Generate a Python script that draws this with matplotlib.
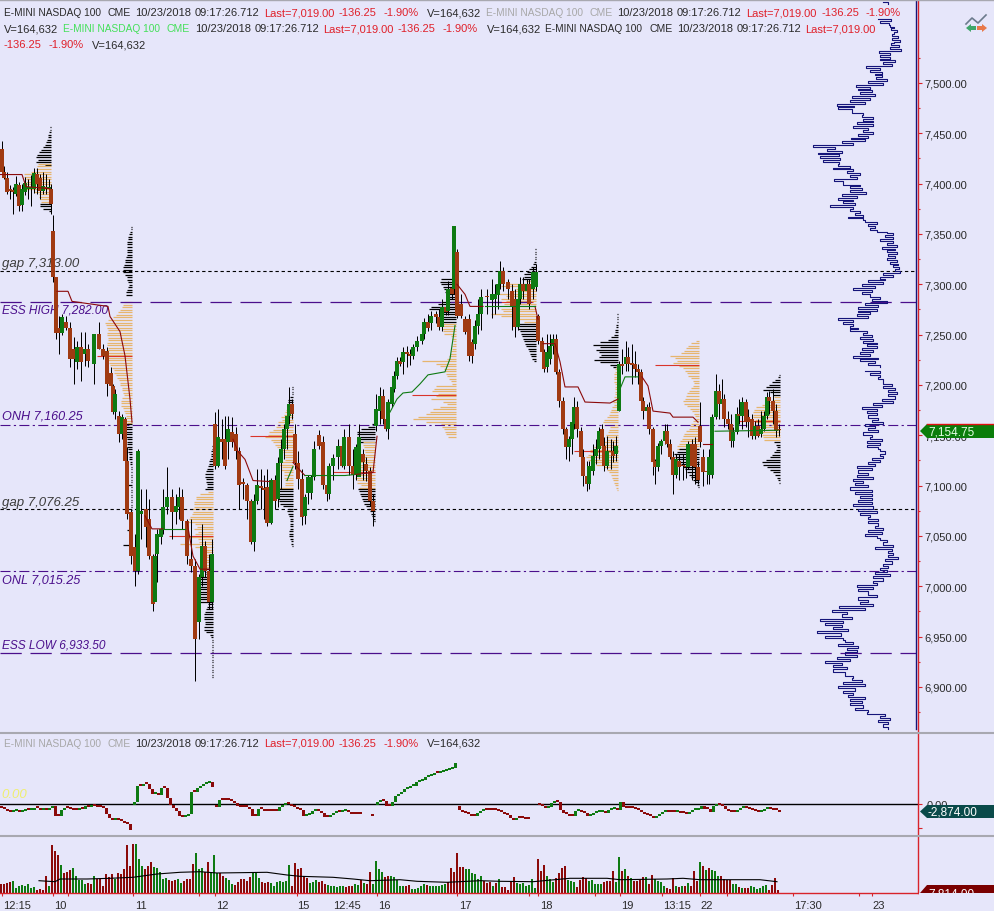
import numpy as np
import matplotlib
matplotlib.use("Agg")
import matplotlib.pyplot as plt
from matplotlib.lines import Line2D
from matplotlib.patches import Polygon, Rectangle

plt.rcParams['font.family'] = ['Liberation Sans', 'DejaVu Sans']

# candles, x is chart position
candle_x = [2,4,7,10,13,16,19,22,25,28,
    31,34,37,40,43,46,49,51,53,56,
    59,62,66,70,74,77,81,85,88,94,
    99,103,107,111,113,115,119,122,125,127,
    131,135,138,141,146,149,153,155,157,161,
    163,167,172,176,179,182,187,191,195,199,
    202,205,209,212,215,218,222,225,228,232,
    236,239,243,247,251,254,257,261,264,267,
    271,275,278,281,284,287,289,292,295,298,
    302,305,308,311,314,319,323,327,329,333,
    338,342,344,349,353,356,359,363,366,370,
    373,376,380,383,386,388,392,394,397,400,
    403,407,410,413,417,422,424,428,431,436,
    439,442,446,448,452,454,457,461,465,469,
    472,475,478,481,487,492,495,498,500,503,
    508,512,515,518,520,523,527,529,533,536,
    538,542,544,547,550,553,556,559,563,566,
    569,572,574,577,581,583,587,589,593,596,
    599,602,604,607,611,613,616,619,622,626,
    628,632,635,638,641,643,647,649,653,655,
    658,661,665,667,670,673,676,679,683,686,
    688,692,695,698,700,703,707,709,712,716,
    719,722,724,728,731,733,737,739,742,746,
    748,752,755,758,761,764,767,769,773,776,779]
candle_open = [7434,7412,7406,7394,7393,7390,7399,7379,7392,7395,
    7395,7395,7410,7406,7393,7396,7395,7395,7353,7307,
    7257,7252,7263,7257,7236,7223,7238,7231,7236,7221,
    7251,7236,7234,7212,7199,7173,7169,7151,7166,7124,
    7074,7039,7015,7072,7077,7067,7030,6984,7032,7049,
    7057,7079,7089,7074,7079,7089,7065,7027,7020,6964,
    7009,7040,7015,6984,7161,7119,7146,7146,7143,7153,
    7151,7134,7103,7101,7085,7044,7085,7099,7098,7099,
    7063,7106,7087,7122,7136,7156,7169,7181,7151,7122,
    7107,7070,7093,7093,7109,7150,7143,7101,7092,7119,
    7128,7139,7119,7148,7119,7111,7109,7131,7121,7114,
    7085,7159,7174,7189,7166,7156,7181,7196,7209,7224,
    7223,7233,7231,7229,7238,7244,7251,7263,7262,7270,
    7267,7258,7277,7273,7296,7295,7332,7280,7265,7265,
    7243,7241,7259,7270,7288,7284,7285,7289,7300,7313,
    7302,7293,7285,7258,7285,7300,7293,7300,7295,7297,
    7268,7244,7233,7218,7226,7239,7246,7213,7184,7156,
    7138,7146,7161,7178,7154,7128,7110,7102,7114,7129,
    7136,7156,7139,7119,7134,7134,7131,7174,7221,7221,
    7228,7221,7221,7216,7213,7184,7174,7178,7156,7124,
    7118,7139,7144,7154,7141,7128,7111,7124,7120,7119,
    7118,7141,7141,7118,7159,7128,7114,7111,7111,7168,
    7194,7181,7186,7166,7161,7144,7153,7171,7169,7183,
    7168,7166,7149,7159,7151,7156,7169,7188,7184,7174,7156]
candle_close = [7412,7406,7392,7393,7392,7400,7378,7395,7401,7397,
    7396,7411,7400,7393,7398,7395,7397,7380,7307,7252,
    7252,7267,7257,7226,7226,7238,7223,7236,7224,7251,
    7236,7229,7201,7199,7173,7191,7151,7168,7124,7072,
    7030,7015,7134,7075,7059,7030,6982,7030,7052,7057,
    7079,7089,7074,7080,7089,7065,7030,7020,6948,7009,
    7040,7015,6984,7032,7119,7148,7143,7119,7156,7143,
    7134,7101,7102,7085,7044,7085,7101,7098,7096,7063,
    7106,7085,7122,7136,7156,7169,7181,7171,7122,7107,
    7069,7089,7109,7109,7136,7139,7101,7092,7119,7127,
    7139,7119,7148,7119,7111,7138,7148,7123,7114,7085,
    7075,7176,7189,7166,7156,7183,7198,7209,7224,7221,
    7233,7231,7229,7238,7244,7251,7263,7257,7268,7267,
    7258,7277,7272,7295,7290,7358,7268,7268,7253,7229,
    7229,7259,7270,7287,7287,7290,7290,7300,7313,7300,
    7295,7277,7258,7285,7300,7293,7300,7280,7312,7312,
    7244,7233,7216,7233,7239,7246,7213,7184,7156,7138,
    7146,7163,7178,7156,7128,7110,7102,7119,7129,7136,
    7154,7139,7119,7134,7133,7129,7139,7221,7219,7228,
    7221,7220,7216,7213,7184,7174,7178,7156,7123,7118,
    7139,7144,7154,7141,7128,7111,7126,7118,7119,7118,
    7141,7119,7118,7106,7143,7113,7113,7128,7168,7194,
    7181,7186,7166,7161,7144,7153,7171,7169,7183,7163,
    7163,7149,7159,7149,7156,7169,7188,7184,7174,7154,7154.75]
candle_high = [7442,7417,7412,7399,7397,7408,7402,7400,7407,7405,
    7409,7415,7415,7410,7412,7410,7405,7400,7369,7307,
    7268,7270,7268,7263,7248,7244,7253,7253,7241,7251,
    7263,7241,7238,7218,7201,7196,7174,7171,7168,7138,
    7077,7052,7136,7097,7097,7087,7032,7034,7057,7059,
    7097,7118,7097,7092,7099,7097,7067,7067,7027,7012,
    7062,7045,7032,7047,7173,7176,7166,7169,7169,7168,
    7158,7138,7108,7103,7087,7092,7116,7116,7111,7116,
    7108,7111,7128,7146,7161,7181,7198,7186,7161,7134,
    7116,7092,7111,7111,7144,7155,7149,7106,7122,7131,
    7146,7146,7156,7161,7136,7141,7161,7136,7128,7118,
    7092,7191,7198,7196,7171,7186,7203,7214,7228,7228,
    7238,7239,7236,7241,7249,7253,7266,7270,7273,7273,
    7275,7285,7290,7303,7307,7358,7335,7290,7268,7270,
    7246,7264,7285,7295,7295,7305,7300,7307,7323,7317,
    7305,7300,7295,7287,7307,7307,7305,7305,7317,7320,
    7270,7248,7236,7251,7251,7251,7251,7216,7188,7158,
    7149,7166,7188,7184,7158,7136,7124,7124,7141,7146,
    7158,7161,7148,7149,7146,7144,7149,7224,7236,7244,
    7238,7241,7234,7221,7216,7188,7181,7183,7158,7126,
    7142,7146,7161,7161,7146,7134,7131,7131,7131,7128,
    7144,7146,7148,7124,7183,7136,7121,7136,7171,7211,
    7201,7206,7191,7174,7171,7158,7178,7186,7188,7186,
    7176,7171,7164,7166,7174,7174,7193,7194,7196,7181,7161]
candle_low = [7410,7405,7390,7385,7370,7388,7373,7373,7389,7385,
    7378,7391,7390,7385,7390,7390,7382,7370,7302,7246,
    7231,7250,7255,7218,7201,7216,7204,7219,7218,7201,
    7236,7226,7189,7194,7171,7166,7143,7146,7116,7067,
    7022,7000,7012,7047,7039,7027,6975,7000,7004,7042,
    7052,7072,7047,7062,7067,7057,7022,7014,6906,6948,
    7000,7009,6977,6977,7116,7118,7126,7116,7126,7138,
    7126,7077,7087,7067,7042,7035,7082,7077,7067,7060,
    7062,7077,7079,7097,7126,7136,7161,7166,7116,7097,
    7061,7062,7082,7087,7106,7136,7097,7085,7087,7106,
    7116,7118,7116,7111,7097,7106,7111,7106,7105,7080,
    7060,7154,7161,7161,7154,7146,7178,7193,7206,7219,
    7211,7218,7220,7226,7234,7241,7246,7254,7255,7262,
    7255,7254,7269,7269,7285,7290,7266,7266,7251,7224,
    7222,7236,7251,7255,7270,7266,7270,7275,7295,7293,
    7285,7255,7248,7255,7280,7285,7285,7275,7285,7293,
    7241,7228,7213,7213,7221,7231,7211,7178,7151,7126,
    7124,7131,7156,7148,7124,7100,7095,7097,7111,7121,
    7126,7131,7114,7116,7116,7123,7124,7174,7211,7214,
    7214,7201,7208,7201,7181,7166,7166,7151,7111,7102,
    7114,7131,7141,7138,7126,7092,7108,7106,7106,7108,
    7116,7106,7102,7102,7138,7100,7102,7102,7108,7166,
    7166,7174,7158,7156,7138,7138,7151,7161,7156,7158,
    7148,7146,7146,7148,7148,7154,7166,7171,7161,7148,7149]

# session vwap pieces: (x list, price list)
vwap_red = [([0,22,26,50],[7409,7409,7397,7395]),
    ([57,68,72,108,110,120,125,130,132],[7293,7293,7283,7278,7268,7253,7229,7186,7163]),
    ([145,152,163],[7070,7057,7057]),
    ([187,193,200,210],[7064,7030,7017,7017]),
    ([233,238,245,250,253,270],[7146,7134,7126,7113,7105,7104]),
    ([293,302,305],[7123,7113,7110]),
    ([355,373,377],[7111,7113,7149]),
    ([457,465,470,483],[7300,7290,7278,7278]),
    ([535,538],[7278,7265]),
    ([543,555,560,565,578,585,610,618],[7241,7241,7223,7198,7198,7183,7182,7186]),
    ([642,648,653,670,673,693,698],[7208,7199,7174,7172,7168,7168,7163]),
    ([703,712],[7141,7141])]
vwap_green = [([163,185],[7057,7057]),
    ([287,293],[7105,7119]),
    ([305,345,355],[7110,7110,7111]),
    ([390,397,403,412,420,428,445,450,455],[7173,7186,7192,7193,7201,7210,7213,7226,7259]),
    ([485,518,535],[7278,7278,7278]),
    ([620,625,638],[7196,7208,7208]),
    ([715,778],[7154,7155])]

poc_left = [97,169,250,333,412,493,574,655,738]
poc_right = [132,213,293,375,456,533,618,699,780]
poc_price = [7229,7050,7149,7113,7190,7282,7134,7220,7164]

# volume profiles, rows 2.5 points apart going down from the top price
p1_right = 51
p1_black_top, p1_black = 7456, [1,1,2,3,3,4,5,6,8,10,12,14,15,13,15,6]
p1_orange_top, p1_orange = 7419.5, [13,14,15,20,27,27,25,25,27,27,27,17,12,12,11,10]
p1_low_top, p1_low = 7380, [11,11,8,2]

p2_right = 132
p2_black_top, p2_black = 7357, [1,1,2,3,4,4,5,5,5,5,5,5,6,7,7,8,9,9,9,7,5,5,4,3,4,5,6,6]
p2_orange_top, p2_orange = 7282, [8,9,10,12,14,16,19,24,27,26,25,24,25,25,24,24,25,25,24,25,26,25,25,24,23,22,20,18,18,16,15,13,12,12,10,10,9,8,10,11,11,11,9,8,7,6,6,6,5]
p2_low_top, p2_low = 7161, [7,6,6,6,6,6,5,5,5,5,4,4,3,3,3,2,2,1,1,1,1,1,1,1,6,1,1,1,1,1,1,1,1,1,1,1,1,1,1,1,1,1,5,1,1,1,1,1,9,1,1]

p3_right = 213
p3_black_top, p3_black = 7139, [1,1,2,2,2,3,4,4,5,6,7,8,8,7,7,6,6,8]
p3_orange_top, p3_orange = 7094, [5,13,17,17,19,19,19,22,20,21,23,24,25,18,16,19,15,18,25,15,14,33,18,12,10,10,10,10,8,8,7]
p3_low_top, p3_low = 7017, [7,7,7,14,15,16,16,17,17,17,17,17,17,15,5,6,7,8,9,9,9,8,8,9,9,7,3,2,1,1,1,1,1,1,1,1,1,1,1,1,1,1,1,1]

p4_right = 293
p4_black_top, p4_black = 7198, [1,1,1,1,3,5,5,2]
p4_orange_top, p4_orange = 7178, [5,7,8,9,12,11,15,16,17,20,24,25,28,22,20,18,16,14,10,9,8,8,13,14,11,12,9,9,9,8,8,8,15]
p4_low_top, p4_low = 7097, [16,16,15,15,15,14,13,10,5,6,5,4,3,3,3,3,3,4,4,4,3,2,2,1]

p5_right = 375
p5_black_top, p5_black = 7161, [3,7,14,18,18,18,18,16]
p5_orange_top, p5_orange = 7143, [12,12,11,11,10,10,12,14,16,18,20,22,20,18,20,18,18,14,16]
p5_low_top, p5_low = 7097, [17,16,15,14,13,12,11,9,7,5,4,3,2,1]

p6_right = 456
p6_black_top, p6_black = 7305, [15,16,15,13,12,11,10,9,9,14,18,25,27,15,14,13,13,13]
p6_orange_top, p6_orange = 7261, [19,16,14,13,12,5,4,3,3,4,4,5,6,7,9,34,20,16,12,11,10,9,7,5,4,20,22,24,18,20,25,13,9,16,23,26,30,38,43,30,15,14,12,11,10,8]

p7_right = 536
p7_black_top, p7_black = 7335, [1,1,1,1,1,2,3,5,7,9,12,12,14]
p7_orange_top, p7_orange = 7303, [10,29,35,20,25,37,30,35,30,32,20,35,33,45,35,20,12]
p7_low_top, p7_low = 7261, [23,20,18,16,15,14,13,12,11,10,8,7,6,5,4,2]

p8_right = 618
p8_black_top, p8_black = 7270, [1,1,1,1,2,2,3,3,4,7,10,18,25,18,22,19,17,19,24,18,8,5]
p8_orange_top, p8_orange = 7218, [2,3,3,4,4,4,4,3,3,3,3,3,4,5,5,4,6,7,8,9,11,14,15,14,8,9,10,12,12,11,14,18,24,28,28,30,32,30,26,22,14,11,9,7,6,5,4,3,2,1]

p9_right = 699
p9_orange_top, p9_orange = 7244, [3,8,11,13,15,18,29,24,22,26,20,16,14,12,11,8,6,5,6,8,10,12,13,14,16,15,12,9,7,5,4,3,6,8,9,10,13,15,16,17,19,20,22,22]
p9_low_top, p9_low = 7136, [20,22,25,24,23,20,18,16,14,12,10,8,6,4,2,1]

p10_right = 780
p10_black_top, p10_black = 7210, [1,2,5,8,11,14,17,10,7]
p10_orange_top, p10_orange = 7188, [6,8,12,18,24,26,27,27,27,25,25,26,24,22,18,18,17,16]
p10_low_top, p10_low = 7143, [6,4,3,4,6,8,10,14,18,17,13,10,7,5,3,2,1]

# far right profile (length back from the navy line)
right_prof_top = [33,28]
right_prof_upper = [38,25,36,27,26,22,25,19,22,24,18,24,16,22,25,17,26,15,37,26,36,26,36,21,33,24,50,36,46,34,41,34,40,29,48,33,60,46,58,44,56,41,64,46,66,51,79,62,78,64,64,53,54,43,53,43,59,43,63,48,53,43,58,48,65,51,74,63,103,81,89,74,98,77,96,76,93,77,78,66,83,63,69,56,66,59,82,73,73,56,66,54,66,50,74,59,78,63,73,61,86,63,66,56,61,53,68,53,51,39,48,41,46,39,29,23,31,23,36,23,29,19,34,21,29,19,28,21,29,19,26,18,23,17,21,16,33,23,36,31,48,33,54,41,63,44,54,46,46,36,44,29,51,38,58,39,58,46,59,48,78,63,73,63,66,58,66,49,53,44,56,43,53,39,49,39,54,43,56,46,63,38,56,41,48,36]
right_prof_lower = [51,36,46,36,38,33,33,24,33,21,28,19,28,21,34,23,43,34,54,39,49,39,48,38,44,33,51,41,48,38,53,44,46,34,49,36,49,38,36,31,36,33,44,36,48,41,59,44,58,48,59,43,63,53,61,48,66,44,61,44,56,44,58,44,63,43,58,39,56,46,48,38,48,38,41,33,48,34,51,39,36,29,33,23,41,24,28,23,28,18,31,24,33,28,36,29,41,26,43,33,43,39,59,43,58,48,48,39,58,48,56,43,77,51,84,69,74,64,96,73,91,74,83,68,99,75,91,73,71,63,78,58,69,59,71,59,79,66,91,74,83,69,83,71,71,63,64,54,73,51,78,61,73,63,68,51,66,54,66,53,61,48,49,31,36,26,38,28,33,28]

# price levels: value, label, label price position
gap_levels = [7313.0, 7076.25]
gap_labels = ["gap 7,313.00", "gap 7,076.25"]
gap_label_price = [7321, 7084]
ess_levels = [7282.0, 6933.5]
ess_labels = ["ESS HIGH 7,282.00", "ESS LOW 6,933.50"]
ess_label_price = [7275, 6942]
on_levels = [7160.25, 7015.25]
on_labels = ["ONH 7,160.25", "ONL 7,015.25"]
on_label_price = [7170, 7007]

price_ticks = [6900,6950,7000,7050,7100,7150,7200,7250,7300,7350,7400,7450,7500]
price_minor = [6875,6925,6975,7025,7075,7125,7175,7225,7275,7325,7375,7425,7475,7525]

# delta panel, closes of each run of bars
delta_starts = [0,133,215,376,458,538]
delta_first_open = [-7,0,-2,0,-4,2]
delta_a = [-9,-12,-19,-22,-17,-16,-20,-17,-16,-16,-14,-8,-10,-14,-12,-14,-10,-4,-32,-32,-14,-9,-10,-12,-14,-14,-11,-11,-2,-6,-2,-2,-6,-6,-10,-26,-39,-46,-39,-46,-48,-54,-56,-74]
delta_b = [8,56,56,63,63,48,33,34,31,51,51,21,1,-9,-19,-34,-36,-32,-26,38,38,51,56,64,66,68,54]
delta_c = [-6,14,14,14,14,11,6,-2,-6,-6,-6,-12,-32,-32,-12,-12,-17,-17,-17,-19,-19,-6,1,6,4,-2,-6,-12,-14,-32,-29,-26,-19,-17,-19,-24,-36,-36,-29,-24,-22,-22,-19,-17,-22,-26,-26,-28,-28,np.nan,np.nan,-32,-32]
delta_d = [8,11,11,-4,-4,8,26,33,38,48,51,56,58,68,71,76,84,86,91,96,96,98,101,106,108,111,126]
delta_e = [-14,-20,-24,-26,-32,-32,-24,-17,-14,-14,-14,-14,-14,-18,-22,-26,-29,-39,-44,-39,-39,-40,-41,-41]
delta_f = [0,-2,-9,-6,6,9,8,-14,-24,-28,-32,-32,-19,-18,-20,-24,-32,-30,-24,-22,-20,-19,-24,-16,-12,-10,-14,10,-6,-8,-10,-10,-12,-14,-22,-26,-29,-32,-38,-32,-26,-22,-19,-20,-22,-22,-18,-24,-24,-26,-20,-16,-14,-12,-4,-12,-12,-22,-4,1,1,-4,-12,-18,-20,-20,-14,-10,-8,-8,-12,-14,-19,-20,-17,-12,-11,-12,-14,-16,-20]

# volume panel
volume = [9,9,10,11,12,5,7,8,7,9,
    5,6,3,4,3,17,7,48,42,38,
    28,20,21,23,25,17,13,13,9,10,
    9,17,14,14,7,19,16,19,14,20,
    19,24,48,27,49,49,34,27,24,27,
    31,26,25,21,14,15,13,12,13,14,
    10,12,14,14,29,40,24,25,21,31,
    21,38,20,20,17,15,13,9,8,11,
    14,14,12,16,21,21,15,11,10,11,
    10,7,11,12,11,12,28,7,30,24,
    25,17,15,10,11,13,11,12,9,8,
    7,7,6,7,7,6,7,7,9,8,
    13,10,9,21,9,32,24,21,16,17,
    17,16,13,7,7,7,8,4,4,5,
    7,9,8,7,7,7,7,8,9,11,
    25,21,40,26,26,24,24,20,19,14,
    17,12,10,11,7,10,14,
    6,6,3,12,16,10,9,10,7,8,
    14,5,34,22,28,17,14,11,15,20,
    25,27,13,12,11,6,13,16,15,12,
    13,9,9,9,11,12,12,22,11,36,
    22,24,17,15,12,12,13,16,16,9,
    18,14,12,11,7,5,4,15,7,6,
    7,7,10,7,22,12,31,27,23,25,
    23,22,17,17,14,13,13,9,9,6,
    5,5,5,7,6,4,5,7,8,3,
    8,15,3]
volume_side = ("rrrrgggggg" "ggrrrrgrrr" "grrrgggggr" "rgrrrrrrgr" "rrrrrgggrr"
    "rgggggrrrg" "grrrrgggrr" "gggrrgggrr" "rrrrgggrrr" "gggggggrrr"
    "rrrgggrrrg" "gggggrrrgg" "rgrrggggrr" "gggggrrggg" "ggrggggggr"
    "rrrrrggggg" "grrrgrg"
    "rrrrrggggg" "ggrrrgggrr" "rrgggrrrrg" "ggggrrrrgg" "rgrgrrrrgr"
    "rggggrrrgr" "grgrrrgrgr" "gggrrrrggr" "grrggggggr" "rrr")
vol_ma_x = [39,55,60,87,110,133,157,180,200,217,267,287,300,333,353,370,400,417,447,480,500,533,570,607,620,667,683,700,733,760,777]
vol_ma = [12.3,11.3,14,14,14.7,15.7,19,20.7,21.3,20,20.7,18,16.7,15.7,14,12.3,13.3,11.7,10.7,12.3,11.7,11.3,14.7,14.7,13.3,14,14.7,13.3,13.3,13.3,11.3]

# bottom axis
time_pos = [17,60,141,222,303,347,384,465,546,627,677,707,808,879]
time_labels = ["12:15","10","11","12","15","12:45","16","17","18","19","13:15","22","17:30","23"]
time_marks = [2,53,68,133,199,215,297,377,457,529,538,595,620,662,700,727,793,859,872]

BG = "#E6E6FA"
RED_AX = "#D8232A"
BROWN = "#A03A12"
GREEN = "#0E7A12"
DKRED = "#8B0A0A"
ORANGE = "#E6B56E"
NAVY = "#15157A"
PURPLE = "#4B0F8C"
TXT = "#2A2A2A"
LABEL_RED = "#E0202A"

fig = plt.figure(figsize=(9.95, 9.12), dpi=100, facecolor=BG)

def fx(x):
    return x / 995

def fy(y):
    return 1 - y / 912

ax = fig.add_axes([0, fy(733), 918 / 995, 731 / 912], facecolor=BG)
ax_d = fig.add_axes([0, fy(836), 918 / 995, 101 / 912], facecolor=BG)
ax_v = fig.add_axes([0, fy(894), 918 / 995, 56 / 912], facecolor=BG)

for a in (ax, ax_d, ax_v):
    a.set_xlim(0, 918)
    for s in a.spines.values():
        s.set_visible(False)
    a.spines['right'].set_visible(True)
    a.spines['right'].set_color(RED_AX)
    a.spines['right'].set_linewidth(1.0)
    a.yaxis.tick_right()

# main panel
ax.set_ylim(6855.2, 7581.4)

def draw_profile(right, top, lens, color):
    lens = np.array(lens, float)
    rows = top - 2.5 * np.arange(len(lens))
    ax.hlines(rows, right - lens, right, color=color, lw=0.9, zorder=1)

draw_profile(p1_right, p1_black_top, p1_black, "black")
draw_profile(p1_right, p1_orange_top, p1_orange, ORANGE)
draw_profile(p1_right, p1_low_top, p1_low, "black")
draw_profile(p2_right, p2_black_top, p2_black, "black")
draw_profile(p2_right, p2_orange_top, p2_orange, ORANGE)
draw_profile(p2_right, p2_low_top, p2_low, "black")
draw_profile(p3_right, p3_black_top, p3_black, "black")
draw_profile(p3_right, p3_orange_top, p3_orange, ORANGE)
draw_profile(p3_right, p3_low_top, p3_low, "black")
draw_profile(p4_right, p4_black_top, p4_black, "black")
draw_profile(p4_right, p4_orange_top, p4_orange, ORANGE)
draw_profile(p4_right, p4_low_top, p4_low, "black")
draw_profile(p5_right, p5_black_top, p5_black, "black")
draw_profile(p5_right, p5_orange_top, p5_orange, ORANGE)
draw_profile(p5_right, p5_low_top, p5_low, "black")
draw_profile(p6_right, p6_black_top, p6_black, "black")
draw_profile(p6_right, p6_orange_top, p6_orange, ORANGE)
draw_profile(p7_right, p7_black_top, p7_black, "black")
draw_profile(p7_right, p7_orange_top, p7_orange, ORANGE)
draw_profile(p7_right, p7_low_top, p7_low, "black")
draw_profile(p8_right, p8_black_top, p8_black, "black")
draw_profile(p8_right, p8_orange_top, p8_orange, ORANGE)
draw_profile(p9_right, p9_orange_top, p9_orange, ORANGE)
draw_profile(p9_right, p9_low_top, p9_low, "black")
draw_profile(p10_right, p10_black_top, p10_black, "black")
draw_profile(p10_right, p10_orange_top, p10_orange, ORANGE)
draw_profile(p10_right, p10_low_top, p10_low, "black")

ax.hlines(poc_price, poc_left, poc_right, color="#D9342B", lw=0.8, zorder=1.5)

# reference levels
ax.hlines(gap_levels, 0, 916, color="black", lw=0.8, linestyles=[(0, (3, 2.5))], zorder=2)
ax.hlines(ess_levels, 0, 916, color=PURPLE, lw=0.9, linestyles=[(0, (17, 7))], zorder=2)
ax.hlines(on_levels, 0, 916, color=PURPLE, lw=0.8, linestyles=[(0, (9, 3, 2, 3))], zorder=2)
for lev, txt in zip(gap_label_price, gap_labels):
    ax.text(2, lev, txt, color="#3C3C3C", style='italic', fontsize=9.5, va='center', zorder=1.8)
for lev, txt in zip(ess_label_price, ess_labels):
    ax.text(2, lev, txt, color=PURPLE, style='italic', fontsize=8.6, va='center', zorder=1.8)
for lev, txt in zip(on_label_price, on_labels):
    ax.text(2, lev, txt, color=PURPLE, style='italic', fontsize=9.1, va='center', zorder=1.8)

# candles
o = np.array(candle_open, float)
c = np.array(candle_close, float)
body_low = np.minimum(o, c)
body_h = np.maximum(np.abs(c - o), 1.5)
colors = [GREEN if cc > oo else BROWN for oo, cc in zip(o, c)]
ax.vlines(candle_x, candle_low, candle_high, color="black", lw=0.72, zorder=3)
ax.bar(candle_x, body_h, bottom=body_low, width=3.5, color=colors, linewidth=0, zorder=3.5)

for xs, ys in vwap_red:
    ax.plot(xs, ys, color=DKRED, lw=0.8, zorder=4)
for xs, ys in vwap_green:
    ax.plot(xs, ys, color=GREEN, lw=0.8, zorder=4)

# right profile
ax.plot(916 - np.array(right_prof_top), [7580, 7578], color=NAVY, lw=0.8, drawstyle='steps-post', zorder=2.5)
upper = np.linspace(7563.5, 7217.8, len(right_prof_upper))
lower = np.linspace(7213.8, 6858.5, len(right_prof_lower))
ax.plot(916 - np.array(right_prof_upper), upper, color=NAVY, lw=0.8, drawstyle='steps-post', zorder=2.5)
ax.plot(916 - np.array(right_prof_lower), lower, color=NAVY, lw=0.8, drawstyle='steps-post', zorder=2.5)
ax.plot([915.5, 915.5], [6858, 7581.4], color=NAVY, lw=1.0, zorder=2.5)

ax.set_xticks([])
ax.set_yticks(price_ticks)
ax.set_yticklabels([f"{p:,.2f}" for p in price_ticks])
ax.set_yticks(price_minor, minor=True)
ax.tick_params(axis='y', which='major', length=3, width=0.8, color=RED_AX, labelsize=8, labelcolor=TXT, pad=1.5)
ax.tick_params(axis='y', which='minor', length=1.5, width=0.8, color=RED_AX)

# delta panel
ax_d.set_ylim(-92, 211)
ax_d.axhline(0, color="black", lw=1.0, zorder=2)
for start, first, closes in zip(delta_starts, delta_first_open,
                                [delta_a, delta_b, delta_c, delta_d, delta_e, delta_f]):
    cl = np.array(closes, float)
    op = np.r_[first, cl[:-1]]
    xs = start + 1 + 3.0 * np.arange(len(cl))
    ok = ~(np.isnan(cl) | np.isnan(op))
    up = cl[ok] > op[ok]
    ax_d.bar(xs[ok], np.maximum(np.abs(cl[ok] - op[ok]), 6), bottom=np.minimum(cl[ok], op[ok]) - 2,
             width=3.0, color=[GREEN if u else DKRED for u in up], linewidth=0, zorder=3)
ax_d.text(1, 30, "0.00", color="#EFEF70", style='italic', fontsize=9.5, va='center')
ax_d.set_xticks([])
ax_d.set_yticks([0, -72])
ax_d.set_yticklabels(["0.00", ""])
ax_d.tick_params(axis='y', length=3, width=0.8, color=RED_AX, labelsize=8, labelcolor=TXT, pad=3)

# volume panel
ax_v.set_ylim(0, 56)
vol_x = 1 + 3.0 * np.arange(len(volume))
ax_v.bar(vol_x, volume, width=2.2, color=[GREEN if s == "g" else DKRED for s in volume_side], linewidth=0, zorder=2)
ax_v.plot(vol_ma_x, vol_ma, color="black", lw=0.8, zorder=3)
ax_v.spines['bottom'].set_visible(True)
ax_v.spines['bottom'].set_color(RED_AX)
ax_v.spines['bottom'].set_linewidth(1.0)
ax_v.set_yticks([])
ax_v.set_xticks(time_pos)
ax_v.set_xticklabels(time_labels)
ax_v.tick_params(axis='x', which='major', length=0, labelsize=8, labelcolor=TXT, pad=5)
ax_v.set_xticks(time_marks, minor=True)
ax_v.tick_params(axis='x', which='minor', length=2.5, width=0.8, color=RED_AX)

# separators
for y in (1, 734, 837):
    fig.add_artist(Line2D([0, 1], [fy(y), fy(y)], color="#A8A8B0", lw=1.5 if y > 1 else 1.0, zorder=5))

# header text
NAME = "E-MINI NASDAQ 100"
DATE = "10/23/2018"
TIME = "09:17:26.712"
LAST = "Last=7,019.00"
CHG = "-136.25"
PCT = "-1.90%"
VOL = "V=164,632"
LIME = "#44E05A"
GREY = "#A8A8A8"

def head(x, y, s, color=TXT):
    if s == NAME:
        fig.text(fx(x), fy(y), s, color=color, fontsize=7.3, va='center', ha='left')
        fig.text(fx(x + 104), fy(y), "CME", color=color, fontsize=7.6, va='center', ha='left')
    else:
        fig.text(fx(x), fy(y), s, color=color, fontsize=8, va='center', ha='left')

for x, s, col in [(4, NAME, TXT), (135, DATE, TXT), (195, TIME, TXT), (264, LAST, LABEL_RED),
                  (339, CHG, LABEL_RED), (384, PCT, LABEL_RED), (427, VOL, TXT),
                  (486, NAME, GREY), (617, DATE, TXT), (677, TIME, TXT), (746, LAST, LABEL_RED),
                  (821, CHG, LABEL_RED), (866, PCT, LABEL_RED)]:
    head(x, 13, s, col)
for x, s, col in [(4, VOL, TXT), (63, NAME, LIME), (195, DATE, TXT), (255, TIME, TXT),
                  (323, LAST, LABEL_RED), (398, CHG, LABEL_RED), (443, PCT, LABEL_RED),
                  (487, VOL, TXT), (545, NAME, TXT), (677, DATE, TXT), (737, TIME, TXT),
                  (805, LAST, LABEL_RED)]:
    head(x, 29, s, col)
for x, s, col in [(4, CHG, LABEL_RED), (49, PCT, LABEL_RED), (92, VOL, TXT)]:
    head(x, 45, s, col)
for x, s, col in [(4, NAME, GREY), (135, DATE, TXT), (195, TIME, TXT), (264, LAST, LABEL_RED),
                  (339, CHG, LABEL_RED), (384, PCT, LABEL_RED), (427, VOL, TXT)]:
    head(x, 744, s, col)

# value badges on the right axis
def badge(y0, y1, color, label, textcolor="white"):
    mid = (y0 + y1) / 2
    pts = [(fx(920), fy(mid)), (fx(927), fy(y0)), (1, fy(y0)), (1, fy(y1)), (fx(927), fy(y1))]
    fig.add_artist(Polygon(pts, closed=True, facecolor=color, edgecolor='none', transform=fig.transFigure, zorder=2))
    fig.text(fx(928), fy(mid + 0.5), label, color=textcolor, fontsize=8.5, va='center', ha='left', zorder=3)

badge(425, 439, "#0A7D0A", "7,154.75", "#E4FFE4")
fig.add_artist(Line2D([fx(927), 1], [fy(425), fy(425)], color="#E01010", lw=1.0, zorder=3))
badge(806, 819, "#0A4A4A", "-2,874.00")
badge(886, 902, "#7A0000", "7,814.00")
fig.add_artist(Rectangle((fx(919), 0), 1 - fx(919), fy(894), facecolor=BG, edgecolor='none',
                         transform=fig.transFigure, zorder=4))

# small icon top right
fig.add_artist(Line2D([fx(966), fx(972), fx(978), fx(986)], [fy(25), fy(19), fy(24), fy(16)], color="#6B7A8C", lw=1.2, zorder=5))
fig.add_artist(Polygon([(fx(966), fy(29)), (fx(971), fy(25)), (fx(971), fy(27)), (fx(976), fy(27)),
                        (fx(976), fy(31)), (fx(971), fy(31)), (fx(971), fy(33))], closed=True,
                       facecolor="#3FA66A", edgecolor='none', transform=fig.transFigure, zorder=5))
fig.add_artist(Polygon([(fx(987), fy(29)), (fx(982), fy(25)), (fx(982), fy(27)), (fx(977), fy(27)),
                        (fx(977), fy(31)), (fx(982), fy(31)), (fx(982), fy(33))], closed=True,
                       facecolor="#E8784A", edgecolor='none', transform=fig.transFigure, zorder=5))

fig.savefig("out.png", dpi=100, facecolor=BG)
